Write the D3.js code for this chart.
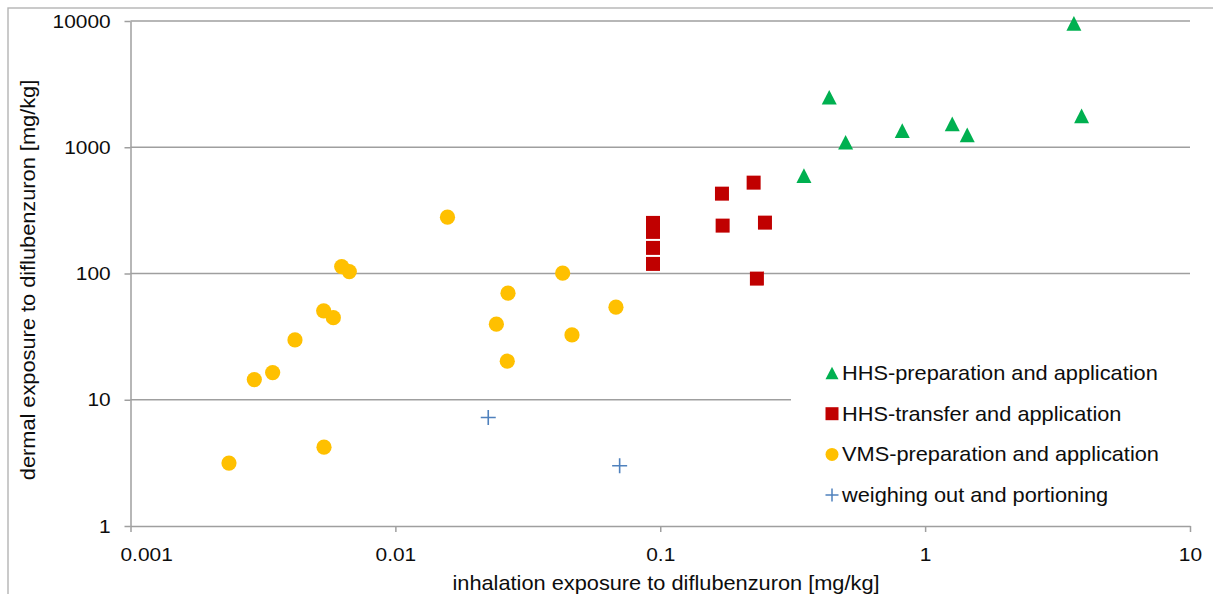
<!DOCTYPE html>
<html>
<head>
<meta charset="utf-8">
<script src="https://cdn.jsdelivr.net/npm/d3@7"></script>
<style>
  html, body { margin: 0; padding: 0; background: #fff; }
  svg { display: block; font-family: "Liberation Sans", Arial, sans-serif; }
</style>
</head>
<body>
<svg id="chart" width="1213" height="594"></svg>
<script>
// Exposure measurements (inhalation vs dermal, mg/kg)
const hhsPrepX = [3.645, 0.4345, 3.897, 1.266, 0.8197, 1.442, 0.501, 0.3487];
const hhsPrepY = [9590, 2488, 1769, 1529, 1353, 1252, 1095, 595.8];

const hhsTransferX = [0.2252, 0.171, 0.172, 0.2485, 0.2317, 0.0939, 0.0939, 0.0939, 0.0939];
const hhsTransferY = [524.4, 429, 239.5, 252.9, 91.1, 251.6, 213.5, 159.5, 119.1];

const vmsPrepX = [0.002354, 0.002934, 0.003441, 0.004178, 0.005362, 0.005831, 0.006271, 0.006699,
                  0.005377, 0.01573, 0.02406, 0.02645, 0.02662, 0.04281, 0.04642, 0.06804];
const vmsPrepY = [3.15, 14.45, 16.42, 29.8, 50.6, 44.7, 113.4, 103.5,
                  4.21, 279.1, 39.7, 20.2, 69.8, 100.6, 32.6, 54.1];

const weighingX = [0.02242, 0.07026];
const weighingY = [7.23, 3.0];

const xTicks = [0.001, 0.01, 0.1, 1, 10];
const yTicks = [1, 10, 100, 1000, 10000];
const xTickLabels = ["0.001", "0.01", "0.1", "1", "10"];
const yTickLabels = ["1", "10", "100", "1000", "10000"];

const seriesNames = [
  "HHS-preparation and application",
  "HHS-transfer and application",
  "VMS-preparation and application",
  "weighing out and portioning"
];

// ---- layout ----
const svg = d3.select("#chart");
const W = 1213, H = 594;
const plot = { left: 130.5, right: 1190, top: 21, bottom: 526 };
const TX = 1.1;             // horizontal text stretch
const TICK_FONT = 19;
const FONT = 19.8;
const textColor = "#0d0d0d";
const gridColor = "#9f9f9f";

svg.append("rect").attr("width", W).attr("height", H).attr("fill", "#fff");

// outer chart-area frame
svg.append("rect")
  .attr("x", 8).attr("y", 8).attr("width", W + 50).attr("height", H + 50)
  .attr("fill", "none").attr("stroke", "#b4b4b4").attr("stroke-width", 1.4);

const x = d3.scaleLog().domain([0.001, 10]).range([plot.left, plot.right]);
const y = d3.scaleLog().domain([1, 10000]).range([plot.bottom, plot.top]);

// horizontal gridlines
svg.append("g").selectAll("line")
  .data(yTicks.filter(d => d > 1))
  .join("line")
  .attr("x1", plot.left).attr("x2", plot.right)
  .attr("y1", d => y(d)).attr("y2", d => y(d))
  .attr("stroke", gridColor).attr("stroke-width", 1.5);

// axes
const yAxis = svg.append("g")
  .attr("transform", `translate(${plot.left},0)`)
  .call(d3.axisLeft(y).tickValues(yTicks)
    .tickFormat((d, i) => yTickLabels[i]).tickSize(6).tickPadding(12).tickSizeOuter(0));
const xAxis = svg.append("g")
  .attr("transform", `translate(0,${plot.bottom})`)
  .call(d3.axisBottom(x).tickValues(xTicks)
    .tickFormat((d, i) => xTickLabels[i]).tickSize(6).tickPadding(16).tickSizeOuter(0));

[yAxis, xAxis].forEach(ax => {
  ax.select(".domain").attr("stroke", gridColor).attr("stroke-width", 1.5);
  ax.selectAll(".tick line").attr("stroke", gridColor).attr("stroke-width", 1.5);
  ax.selectAll(".tick text")
    .attr("fill", textColor)
    .attr("font-size", TICK_FONT)
    .attr("font-family", "Liberation Sans, Arial, sans-serif")
    .attr("transform", `scale(${TX},1)`);
});

// keep the leftmost x label inside the chart frame: left-align it just past the frame edge
xAxis.selectAll(".tick text")
  .filter((d, i) => i === 0)
  .attr("text-anchor", "start")
  .attr("x", -10.5 / TX);

// axis titles
svg.append("text")
  .attr("transform", `translate(35,280) rotate(-90) scale(${TX},1)`)
  .attr("text-anchor", "middle").attr("font-size", FONT).attr("fill", textColor)
  .text("dermal exposure to diflubenzuron [mg/kg]");
svg.append("text")
  .attr("transform", `translate(666,590) scale(${TX},1)`)
  .attr("text-anchor", "middle").attr("font-size", FONT).attr("fill", textColor)
  .text("inhalation exposure to diflubenzuron [mg/kg]");

// marker shapes
const triangleUp = {
  draw(ctx, size) {
    const s = Math.sqrt(size);
    const h = s * 0.98;
    ctx.moveTo(0, -h / 2);
    ctx.lineTo(s / 2, h / 2);
    ctx.lineTo(-s / 2, h / 2);
    ctx.closePath();
  }
};
const squareSym = {
  draw(ctx, size) {
    const s = Math.sqrt(size);
    ctx.rect(-s / 2, -s / 2, s, s);
  }
};
const plusSym = {
  draw(ctx, size) {
    const s = Math.sqrt(size) / 2;
    ctx.moveTo(-s, 0); ctx.lineTo(s, 0);
    ctx.moveTo(0, -s); ctx.lineTo(0, s);
  }
};

const series = [
  { name: seriesNames[0], xs: hhsPrepX, ys: hhsPrepY, type: triangleUp, size: 15 * 15, fill: "#00b050", stroke: "none" },
  { name: seriesNames[1], xs: hhsTransferX, ys: hhsTransferY, type: squareSym, size: 14 * 14, fill: "#c00000", stroke: "none" },
  { name: seriesNames[2], xs: vmsPrepX, ys: vmsPrepY, type: d3.symbolCircle, size: Math.PI * 7.6 * 7.6, fill: "#ffc000", stroke: "none" },
  { name: seriesNames[3], xs: weighingX, ys: weighingY, type: plusSym, size: 15 * 15, fill: "none", stroke: "#4f81bd" }
];

// legend backdrop (covers the gridline behind it)
const legend = { left: 791, right: 1190, top: 352, x0: 832, textX: 842, firstBase: 380, step: 40.7 };
svg.append("rect")
  .attr("x", legend.left).attr("y", legend.top)
  .attr("width", legend.right - legend.left).attr("height", 165)
  .attr("fill", "#fff");

// points — draw order: weighing, VMS, transfer, preparation
const drawOrder = [3, 2, 1, 0];
drawOrder.forEach(si => {
  const s = series[si];
  const pts = s.xs.map((v, i) => [v, s.ys[i]]);
  svg.append("g").selectAll("path")
    .data(pts)
    .join("path")
    .attr("transform", d => `translate(${x(d[0])},${y(d[1])})`)
    .attr("d", d3.symbol().type(s.type).size(s.size)())
    .attr("fill", s.fill)
    .attr("stroke", s.stroke)
    .attr("stroke-width", s.stroke === "none" ? 0 : 1.6);
});

// legend entries
series.forEach((s, i) => {
  const cy = legend.firstBase + i * legend.step - 7;
  svg.append("path")
    .attr("transform", `translate(${legend.x0},${cy})`)
    .attr("d", d3.symbol().type(s.type).size(s.type === d3.symbolCircle ? Math.PI * 6.5 * 6.5 : 13 * 13)())
    .attr("fill", s.fill)
    .attr("stroke", s.stroke)
    .attr("stroke-width", s.stroke === "none" ? 0 : 1.5);
  svg.append("text")
    .attr("transform", `translate(${legend.textX},${legend.firstBase + i * legend.step}) scale(${TX},1)`)
    .attr("font-size", FONT).attr("fill", textColor)
    .text(s.name);
});
</script>
</body>
</html>
